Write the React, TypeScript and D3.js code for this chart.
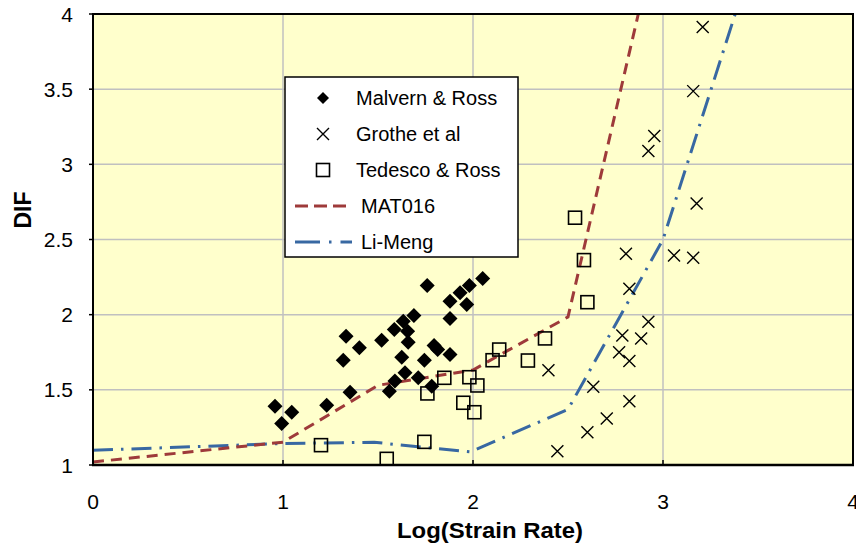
import { useEffect, useRef } from 'react';
import * as d3 from 'd3';

// Malvern & Ross (log strain rate, DIF)
const malvernX = [0.958, 1.046, 0.993, 1.23, 1.353, 1.317, 1.332, 1.402, 1.519, 1.586, 1.633, 1.689, 1.656, 1.659, 1.625, 1.642, 1.589, 1.56, 1.712, 1.744, 1.783, 1.795, 1.814, 1.759, 1.879, 1.879, 1.879, 1.932, 1.981, 1.967, 2.051];
const malvernY = [1.391, 1.351, 1.276, 1.398, 1.484, 1.697, 1.857, 1.78, 1.83, 1.902, 1.957, 1.995, 1.89, 1.817, 1.717, 1.613, 1.558, 1.491, 1.58, 1.697, 1.524, 1.795, 1.768, 2.194, 1.735, 1.975, 2.09, 2.146, 2.194, 2.068, 2.241];

// Grothe et al
const grotheX = [2.805, 2.823, 2.923, 2.786, 2.885, 2.769, 2.823, 2.397, 2.633, 2.823, 2.704, 2.602, 2.444, 3.058, 3.159, 3.209, 3.159, 2.954, 2.923, 3.177];
const grotheY = [2.405, 2.172, 1.953, 1.862, 1.842, 1.75, 1.691, 1.631, 1.52, 1.424, 1.309, 1.218, 1.092, 2.394, 2.379, 3.913, 3.487, 3.188, 3.088, 2.74];

// Tedesco & Ross
const tedescoX = [1.2, 1.546, 1.744, 1.76, 1.849, 1.949, 1.981, 2.023, 2.007, 2.103, 2.138, 2.289, 2.379, 2.584, 2.602, 2.537];
const tedescoY = [1.132, 1.041, 1.154, 1.476, 1.58, 1.414, 1.584, 1.529, 1.351, 1.697, 1.768, 1.695, 1.842, 2.363, 2.083, 2.645];

// MAT016 curve
const matX = [0, 1, 1.5, 2, 2.5, 2.87];
const matY = [1.02, 1.152, 1.53, 1.632, 1.985, 4.0];

// Li-Meng curve
const liX = [0, 1, 1.48, 1.985, 2.5, 3.0, 3.38];
const liY = [1.098, 1.143, 1.151, 1.087, 1.37, 2.5, 4.0];

const xTicks = [0, 1, 2, 3, 4];
const yTicks = [1, 1.5, 2, 2.5, 3, 3.5, 4];

const FONT = '"Liberation Sans", Arial, sans-serif';
const RED = '#9e3a3a';
const BLUE = '#3868a2';

export default function App() {
  const svgRef = useRef<SVGSVGElement>(null);

  useEffect(() => {
    if (!svgRef.current) return;
    const svg = d3.select(svgRef.current);
    svg.selectAll('*').remove();

    const left = 93, right = 853, top = 14, bottom = 465;
    const x = d3.scaleLinear().domain([0, 4]).range([left, right]);
    const y = d3.scaleLinear().domain([1, 4]).range([bottom, top]);

    // plot background
    svg.append('rect')
      .attr('x', left).attr('y', top)
      .attr('width', right - left).attr('height', bottom - top)
      .attr('fill', '#ffffcc');

    svg.append('clipPath').attr('id', 'plotclip')
      .append('rect')
      .attr('x', left).attr('y', top)
      .attr('width', right - left).attr('height', bottom - top);

    // grid
    const grid = svg.append('g').attr('stroke', '#c0c0c0').attr('stroke-width', 1.5);
    xTicks.slice(1, -1).forEach(t => {
      grid.append('line').attr('x1', x(t)).attr('x2', x(t)).attr('y1', top).attr('y2', bottom);
    });
    yTicks.slice(1, -1).forEach(t => {
      grid.append('line').attr('x1', left).attr('x2', right).attr('y1', y(t)).attr('y2', y(t));
    });

    // curves
    const line = d3.line<[number, number]>().x(d => x(d[0])).y(d => y(d[1]));
    const plot = svg.append('g').attr('clip-path', 'url(#plotclip)');

    plot.append('path')
      .attr('d', line(liX.map((v, i) => [v, liY[i]] as [number, number])))
      .attr('fill', 'none').attr('stroke', BLUE).attr('stroke-width', 3)
      .attr('stroke-dasharray', '20 8 2.5 8');

    plot.append('path')
      .attr('d', line(matX.map((v, i) => [v, matY[i]] as [number, number])))
      .attr('fill', 'none').attr('stroke', RED).attr('stroke-width', 3)
      .attr('stroke-dasharray', '11 7');

    // markers
    const diamond = (g: any, cx: number, cy: number) =>
      g.append('path')
        .attr('d', `M${cx},${cy - 7.5}L${cx + 7.5},${cy}L${cx},${cy + 7.5}L${cx - 7.5},${cy}Z`)
        .attr('fill', '#000');
    const cross = (g: any, cx: number, cy: number) =>
      g.append('path')
        .attr('d', `M${cx - 6},${cy - 6}L${cx + 6},${cy + 6}M${cx - 6},${cy + 6}L${cx + 6},${cy - 6}`)
        .attr('stroke', '#000').attr('stroke-width', 1.4).attr('fill', 'none');
    const square = (g: any, cx: number, cy: number) =>
      g.append('rect')
        .attr('x', cx - 6.5).attr('y', cy - 6.5).attr('width', 13).attr('height', 13)
        .attr('fill', 'none').attr('stroke', '#000').attr('stroke-width', 1.6);

    tedescoX.forEach((v, i) => square(plot, x(v), y(tedescoY[i])));
    grotheX.forEach((v, i) => cross(plot, x(v), y(grotheY[i])));
    malvernX.forEach((v, i) => diamond(plot, x(v), y(malvernY[i])));

    // legend
    const lg = svg.append('g');
    lg.append('rect')
      .attr('x', 285).attr('y', 77).attr('width', 233).attr('height', 180)
      .attr('fill', '#fff').attr('stroke', '#000').attr('stroke-width', 1.5);
    const rows = [98, 134, 170, 206, 242];
    diamond(lg, 323, rows[0]).attr('transform', 'scale(1)');
    lg.select('path').attr('d', `M323,${rows[0] - 6}L329,${rows[0]}L323,${rows[0] + 6}L317,${rows[0]}Z`);
    cross(lg, 323, rows[1]);
    square(lg, 323, rows[2]);
    lg.append('line').attr('x1', 295).attr('x2', 352).attr('y1', rows[3]).attr('y2', rows[3])
      .attr('stroke', RED).attr('stroke-width', 3).attr('stroke-dasharray', '13 6');
    lg.append('line').attr('x1', 295).attr('x2', 352).attr('y1', rows[4]).attr('y2', rows[4])
      .attr('stroke', BLUE).attr('stroke-width', 3).attr('stroke-dasharray', '25 9 2.5 9');
    const labels = ['Malvern & Ross', 'Grothe et al', 'Tedesco & Ross', 'MAT016', 'Li-Meng'];
    labels.forEach((t, i) => {
      lg.append('text')
        .attr('x', i < 3 ? 356 : 361).attr('y', rows[i] + 7)
        .style('font-family', FONT).style('font-size', '20px').attr('fill', '#000')
        .text(t);
    });

    // frame
    svg.append('rect')
      .attr('x', left).attr('y', top)
      .attr('width', right - left).attr('height', bottom - top)
      .attr('fill', 'none').attr('stroke', '#000').attr('stroke-width', 2);
    svg.append('line').attr('x1', left - 1).attr('x2', right + 1).attr('y1', bottom).attr('y2', bottom)
      .attr('stroke', '#000').attr('stroke-width', 2.5);

    // ticks
    yTicks.forEach(t => {
      svg.append('line').attr('x1', left - 4).attr('x2', left).attr('y1', y(t)).attr('y2', y(t))
        .attr('stroke', '#000').attr('stroke-width', 1.5);
      svg.append('text')
        .attr('x', 73).attr('y', y(t) + 7.5)
        .attr('text-anchor', 'end')
        .style('font-family', FONT).style('font-size', '21px').attr('fill', '#000')
        .text(String(t));
    });
    xTicks.forEach(t => {
      svg.append('line').attr('x1', x(t)).attr('x2', x(t)).attr('y1', bottom).attr('y2', bottom - 5)
        .attr('stroke', '#000').attr('stroke-width', 1.5);
      svg.append('text')
        .attr('x', x(t)).attr('y', 509)
        .attr('text-anchor', 'middle')
        .style('font-family', FONT).style('font-size', '21px').attr('fill', '#000')
        .text(String(t));
    });

    // axis titles
    svg.append('text')
      .attr('x', 490).attr('y', 538)
      .attr('text-anchor', 'middle')
      .style('font-family', FONT).style('font-size', '22px').style('font-weight', 'bold')
      .attr('textLength', 186).attr('lengthAdjust', 'spacingAndGlyphs')
      .text('Log(Strain Rate)');
    svg.append('text')
      .attr('transform', 'translate(31,210) rotate(-90)')
      .attr('text-anchor', 'middle')
      .style('font-family', FONT).style('font-size', '23px').style('font-weight', 'bold')
      .text('DIF');
  }, []);

  return (
    <svg
      ref={svgRef}
      width={856}
      height={548}
      style={{ position: 'absolute', left: 0, top: 0, background: '#fff' }}
    />
  );
}
